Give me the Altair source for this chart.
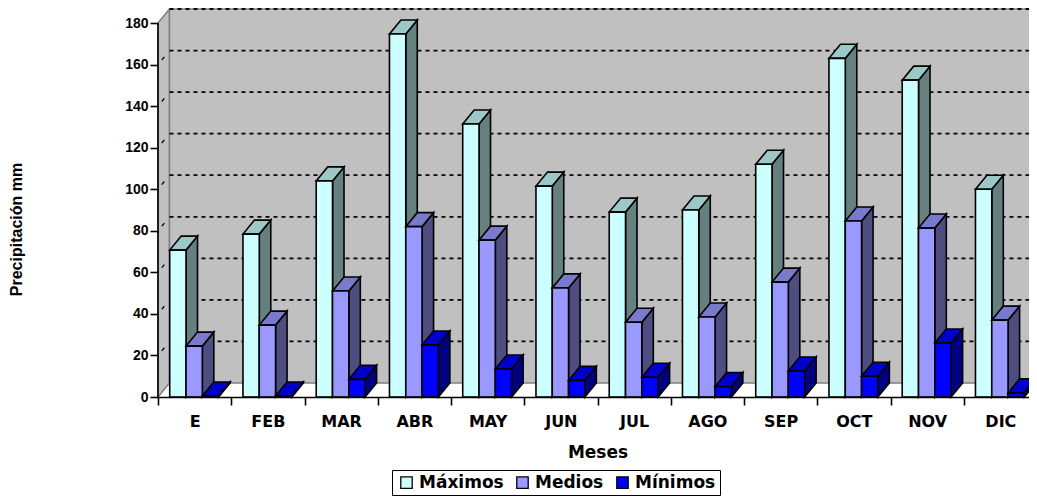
import altair as alt
import pandas as pd

meses = ["E", "FEB", "MAR", "ABR", "MAY", "JUN", "JUL", "AGO", "SEP", "OCT", "NOV", "DIC"]
maximos = [70.7, 78.4, 104, 174.7, 131.4, 101.5, 89, 90, 112, 163, 152.5, 100]
medios = [24.5, 34.6, 51, 82, 75.5, 52.5, 36, 38.5, 55.3, 84.7, 81.3, 37]
minimos = [0.5, 0.5, 8.5, 25, 13.5, 8, 9.5, 5, 12.5, 10, 26, 2]
series = ["Máximos", "Medios", "Mínimos"]
valores = [maximos, medios, minimos]
front_colors = ["#CCFFFF", "#9999FF", "#0000FF"]
top_colors = ["#9CC8C8", "#7A7ACC", "#0000CC"]
side_colors = ["#668080", "#4D4D80", "#000080"]
grid_values = list(range(20, 181, 20))
y_ticks = list(range(0, 181, 20))
x_ticks = list(range(0, 13))

FONT = "DejaVu Sans"
BAR = 0.2225
OFFSET = 0.16
DX = 0.157
DY = 6.74
YMAX = 186.74

xs = alt.Scale(domain=[0, 12], nice=False, zero=False)
ys = alt.Scale(domain=[0, YMAX], nice=False, zero=False)
x_axis = alt.Axis(
    values=x_ticks, tickSize=8, tickWidth=1.6, tickColor="black", domainColor="black",
    domainWidth=1.6, grid=False, labelOffset=36.6, labelPadding=8,
    labelExpr="['E','FEB','MAR','ABR','MAY','JUN','JUL','AGO','SEP','OCT','NOV','DIC',''][datum.value]",
    labelFont=FONT, labelFontWeight="bold", labelFontSize=16, labelColor="black",
    labelFlush=False, labelOverlap=False, labelBound=False,
    titleFont=FONT, titleFontWeight="bold", titleFontSize=17, titleColor="black",
    titlePadding=15, titleX=439.5, titleAnchor="middle", zindex=1,
)
y_axis = alt.Axis(
    values=y_ticks, tickSize=8, tickWidth=1.6, tickColor="black", domain=False, grid=False,
    labelFont="Liberation Sans", labelFontWeight="bold", labelFontSize=14, labelColor="black",
    labelPadding=2, titleFont="Liberation Sans", titleFontWeight="bold", titleFontSize=16,
    titleColor="black", titleX=-134, titleY=220, zindex=1,
)
X = lambda f="x": alt.X(f"{f}:Q", scale=xs, axis=x_axis, title="Meses")
Y = lambda f="y": alt.Y(f"{f}:Q", scale=ys, axis=y_axis, stack=None, title="Precipitación mm")
Y2 = alt.Y2("y2:Q")


def area(rows, fill, stroke, sw):
    return alt.Chart(pd.DataFrame(rows)).mark_area(
        fill=fill, orient="vertical", opacity=1, stroke=stroke, strokeWidth=sw
    ).encode(x=X(), y=Y(), y2=Y2, detail="g:N")


# walls
left_wall = area(
    [{"g": 0, "x": 0, "y": 0, "y2": 180}, {"g": 0, "x": DX, "y": DY, "y2": 180 + DY}],
    "#C0C0C0", "#808080", 1.5,
)
back_wall = alt.Chart(pd.DataFrame([{"x": DX, "x2": 12, "y": DY, "y2": YMAX}])).mark_rect(
    fill="#C0C0C0", stroke="#808080", strokeWidth=1.5
).encode(x=X(), x2="x2:Q", y=Y(), y2=Y2)

grid_df = pd.DataFrame({"v": [v + DY for v in grid_values], "x": DX, "x2": 12})
grid = alt.Chart(grid_df).mark_rule(color="black", strokeWidth=1.8, strokeDash=[4, 4]).encode(
    x=X(), x2="x2:Q", y=Y("v")
)
diag_rows = []
for v in grid_values[:-1]:
    diag_rows += [{"g": v, "x": 0, "y": v}, {"g": v, "x": DX, "y": v + DY}]
diag = alt.Chart(pd.DataFrame(diag_rows)).mark_line(
    color="black", strokeWidth=1.3, strokeDash=[0, 6, 4, 40]
).encode(x=X(), y=Y(), detail="g:N")

y_axis_line = alt.Chart(pd.DataFrame({"x": [0], "y": [0], "y2": [180]})).mark_rule(
    color="black", strokeWidth=1.6
).encode(x=X(), y=Y(), y2=Y2)

# bars
layers = [left_wall, back_wall, grid, diag]
legend = alt.Legend(
    title=None, orient="none", legendX=234, legendY=461, direction="horizontal", columns=3,
    symbolType="square", symbolSize=130, symbolStrokeColor="black", symbolStrokeWidth=1.3,
    symbolOffset=2, labelFont=FONT, labelFontWeight="bold", labelFontSize=17, labelColor="black",
    labelOffset=4, strokeColor="black", fillColor="white", padding=4, columnPadding=8,
)
for s, (name, vals) in enumerate(zip(series, valores)):
    side, top, front = [], [], []
    for m, v in enumerate(vals):
        x0 = m + OFFSET + s * BAR
        x1 = x0 + BAR
        side += [{"g": m, "x": x1, "y": 0, "y2": v}, {"g": m, "x": x1 + DX, "y": DY, "y2": v + DY}]
        top += [
            {"g": m, "x": x0, "y": v, "y2": v},
            {"g": m, "x": x0 + DX, "y": v, "y2": v + DY},
            {"g": m, "x": x1, "y": v, "y2": v + DY},
            {"g": m, "x": x1 + DX, "y": v + DY, "y2": v + DY},
        ]
        front.append({"x": x0, "x2": x1, "y": v, "y2": 0, "serie": name})
    layers.append(area(side, side_colors[s], "#000000", 1.6))
    layers.append(area(top, top_colors[s], "#000000", 1.6))
    layers.append(
        alt.Chart(pd.DataFrame(front)).mark_rect(stroke="#000000", strokeWidth=1.6).encode(
            x=X(), x2="x2:Q", y=Y(), y2=Y2,
            color=alt.Color("serie:N", scale=alt.Scale(domain=series, range=front_colors), legend=legend),
        )
    )
layers.append(y_axis_line)

chart = alt.layer(*layers).properties(
    width=879, height=388,
    padding={"left": 150, "top": 1, "right": -8, "bottom": 99},
    autosize=alt.AutoSizeParams(type="none"),
).configure_view(stroke=None)

chart.save("out.html", embed_options={"renderer": "svg", "actions": False})
